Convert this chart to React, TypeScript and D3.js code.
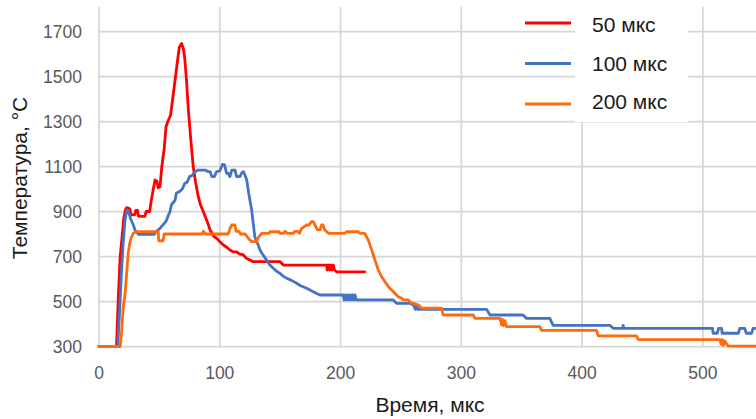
import React from "react";
import * as d3 from "d3";

const xTicks = [0, 100, 200, 300, 400, 500];
const yTicks = [300, 500, 700, 900, 1100, 1300, 1500, 1700];
const seriesNames = ["50 мкс", "100 мкс", "200 мкс"];
const seriesColors = ["#ff0000", "#4472c4", "#ff6a0e"];

// 50 мкс
const redT = [0, 14.5, 16, 17.5, 19, 20.5, 22, 23, 25.5, 26.5, 29.5, 30.5, 32, 32.5, 36, 38, 39, 42, 43, 45, 46.4, 48, 49, 50.5, 52, 54, 55.5, 57, 59.3, 61, 63, 65, 66.5, 68.4, 70, 71, 72.5, 74, 76, 78, 80, 82.2, 84, 86, 88, 90, 92, 95, 97.4, 100, 103, 106, 108.4, 111, 114, 116, 119.5, 122, 125, 127.7, 150, 152.6, 188.5, 189, 190, 191, 192, 193, 194, 195, 196.8, 220];
const redV = [300, 300, 520, 700, 780, 870, 910, 917, 912, 885, 885, 905, 905, 880, 878, 878, 900, 900, 940, 1000, 1040, 1035, 1005, 1010, 1099, 1180, 1277, 1300, 1329, 1400, 1484, 1570, 1630, 1647, 1620, 1580, 1480, 1351, 1220, 1100, 1030, 966, 930, 905, 877, 850, 818, 790, 781, 766, 751, 740, 729, 721, 721, 712, 707, 692, 684, 677, 677, 662, 662, 640, 662, 640, 662, 640, 662, 640, 632, 632];

// 100 мкс
const blueT = [0, 15.5, 17, 18.5, 20, 21.5, 23, 24.5, 26, 28.4, 30, 32.5, 46, 47, 50.5, 52, 54.6, 56, 57.5, 58.8, 60, 63, 64, 67, 69, 71, 73, 75, 77, 79.5, 82, 85, 88, 90.5, 92, 93.5, 95.5, 97.4, 100, 101.5, 102.4, 104, 105.6, 107, 108.4, 110, 112.6, 114, 116.7, 118, 119.5, 121, 122.3, 124, 126.4, 129, 131.9, 133.3, 136, 138.8, 141, 144.3, 147, 149.8, 152, 155.4, 159, 163.6, 167, 171.9, 175, 180.2, 183, 202.2, 203, 204, 205, 206, 207, 208, 209, 210, 211, 212, 213, 214.7, 243.6, 246.4, 257.5, 260.3, 262, 263, 264, 265.7, 321, 323.7, 351, 354, 373.3, 376, 423, 425.8, 433.5, 434, 434.5, 508, 508.5, 512, 513, 515.5, 516, 529.5, 530.6, 534.6, 536, 540.3, 541.6, 545];
const blueV = [300, 300, 450, 620, 760, 860, 907, 900, 870, 840, 815, 799, 799, 810, 825, 835, 850, 862, 884, 900, 930, 950, 981, 990, 1000, 1025, 1030, 1055, 1060, 1077, 1084, 1084, 1084, 1077, 1077, 1055, 1055, 1077, 1080, 1100, 1110, 1107, 1070, 1070, 1055, 1084, 1084, 1055, 1055, 1070, 1077, 1060, 1040, 980, 907, 788, 750, 729, 705, 684, 665, 648, 635, 625, 615, 603, 595, 581, 570, 559, 550, 536, 529, 529, 507, 529, 507, 529, 507, 529, 507, 529, 507, 529, 507, 507, 507, 492, 492, 484, 465, 484, 465, 465, 465, 440, 440, 425, 425, 394, 394, 381, 381, 394, 381, 381, 359, 359, 381, 381, 359, 359, 381, 381, 359, 359, 381, 381];

// 200 мкс
const orangeT = [0, 17.5, 18.5, 20, 21.5, 23, 24.3, 25.5, 26.5, 28.4, 31.2, 49, 49.5, 53, 54, 85.5, 86.4, 88, 107, 108.5, 109.8, 112.6, 113.5, 116, 117, 121, 123.6, 126.4, 130.5, 132, 134.7, 141, 141.6, 149, 149.8, 153, 154, 156, 161, 162, 165, 166, 167.8, 171.9, 174, 176, 177.5, 178.8, 181, 183, 184.3, 185.5, 187, 190, 203.6, 205, 214.7, 216, 220, 223, 225.8, 228.5, 231.3, 234, 236.8, 239.6, 243.6, 247.8, 250.6, 252, 256, 258, 260.3, 264.5, 267.3, 283.6, 285, 309.8, 311.3, 332, 333.4, 334, 335, 336, 337.5, 365, 366.4, 412, 413.4, 445, 446.4, 514, 515, 516, 517, 518, 520.9, 545];
const orangeV = [300, 300, 350, 470, 529, 632, 721, 760, 781, 803, 810, 810, 770, 770, 800, 800, 812, 800, 800, 825, 840, 840, 812, 812, 800, 800, 781, 766, 766, 785, 803, 803, 810, 810, 803, 803, 812, 803, 803, 812, 812, 803, 825, 840, 840, 855, 855, 840, 818, 818, 840, 840, 818, 803, 803, 810, 810, 803, 803, 773, 729, 684, 640, 610, 588, 566, 544, 521, 514, 507, 507, 495, 492, 484, 470, 470, 440, 440, 425, 425, 396, 420, 392, 415, 388, 388, 372, 372, 347, 347, 331, 331, 310, 331, 305, 325, 302, 302];

const seriesT = [redT, blueT, orangeT];
const seriesV = [redV, blueV, orangeV];

export default function App() {
  const W = 756;
  const H = 419;
  const x = d3.scaleLinear().domain([0, 544]).range([99, 756]);
  const y = d3.scaleLinear().domain([300, 1800]).range([346.5, 9]);
  const line = d3
    .line<[number, number]>()
    .x((d) => x(d[0]))
    .y((d) => y(d[1]));

  const grid = "#d6d6d6";
  const tickColor = "#595959";
  const font = "'Liberation Sans', Arial, sans-serif";

  return (
    <svg
      width={W}
      height={H}
      style={{ position: "absolute", left: 0, top: 0, background: "#fff" }}
      fontFamily={font}
    >
      <defs>
        <clipPath id="plot">
          <rect x={0} y={0} width={W} height={360} />
        </clipPath>
      </defs>
      <rect x={0} y={0} width={W} height={H} fill="#fff" />
      {yTicks.map((t) => (
        <line key={"h" + t} x1={x(0)} x2={W} y1={y(t)} y2={y(t)} stroke={grid} strokeWidth={1.75} />
      ))}
      {xTicks.map((t) => (
        <line key={"v" + t} x1={x(t)} x2={x(t)} y1={y(1800) - 2} y2={y(300)} stroke={grid} strokeWidth={1.75} />
      ))}
      <g clipPath="url(#plot)">
        {seriesT.map((ts, i) => (
          <path
            key={"s" + i}
            d={line(ts.map((t, j) => [t, seriesV[i][j]] as [number, number])) || ""}
            fill="none"
            stroke={seriesColors[i]}
            strokeWidth={2.8}
            strokeLinejoin="round"
            strokeLinecap="round"
          />
        ))}
      </g>
      {yTicks.map((t) => (
        <text key={"yl" + t} x={82} y={y(t)} dy="0.36em" textAnchor="end" fontSize={17.5} fill={tickColor}>
          {t}
        </text>
      ))}
      {xTicks.map((t) => (
        <text key={"xl" + t} x={x(t)} y={379} textAnchor="middle" fontSize={17.5} fill={tickColor}>
          {t}
        </text>
      ))}
      <rect x={575} y={0} width={113} height={122} fill="#fff" />
      {seriesNames.map((n, i) => (
        <g key={"lg" + i}>
          <line x1={525} x2={571} y1={23 + i * 40.5} y2={23 + i * 40.5} stroke={seriesColors[i]} strokeWidth={2.8} />
          <text x={592} y={32 + i * 38.5} fontSize={21} fill="#1a1a1a">
            {n}
          </text>
        </g>
      ))}
      <text x={430} y={412} textAnchor="middle" fontSize={21} fill="#1a1a1a">
        Время, мкс
      </text>
      <text transform="translate(27,178) rotate(-90)" textAnchor="middle" fontSize={21} fill="#1a1a1a">
        Температура, °C
      </text>
    </svg>
  );
}
